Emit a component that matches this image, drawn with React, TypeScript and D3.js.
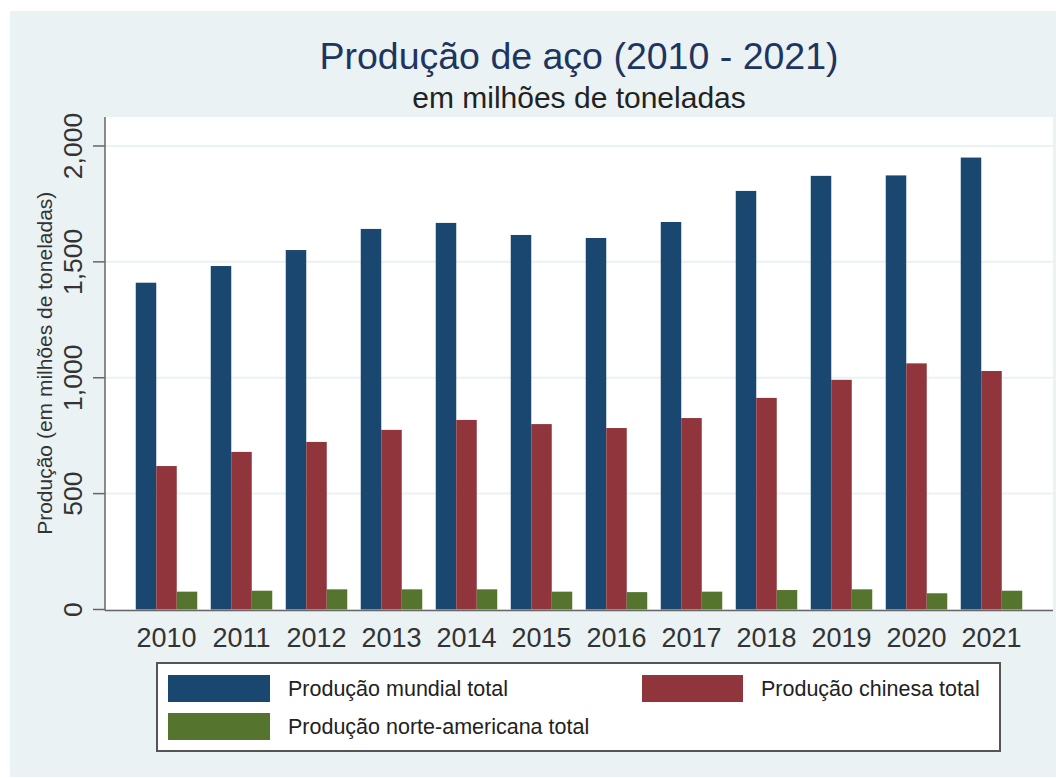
import React from "react";
import * as d3 from "d3";

const years = ["2010","2011","2012","2013","2014","2015","2016","2017","2018","2019","2020","2021"];
const mundial = [1410, 1482, 1551, 1642, 1668, 1616, 1603, 1672, 1806, 1871, 1873, 1950];
const chinesa = [619, 680, 723, 775, 818, 800, 783, 826, 913, 991, 1062, 1029];
const norteAmericana = [77, 81, 87, 87, 87, 77, 75, 77, 84, 87, 70, 81];
const yTicks = [0, 500, 1000, 1500, 2000];
const seriesNames = ["Produção mundial total", "Produção chinesa total", "Produção norte-americana total"];
const colors = ["#1a476f", "#90353b", "#55752f"];

const W = 1056, H = 778;
const plot = { left: 105, right: 1053, top: 117, bottom: 609.5 };
const FONT = "'Liberation Sans', Arial, Helvetica, sans-serif";

export default function App() {
  const x = d3.scaleBand<string>().domain(years).range([129, 1029]).paddingInner(0.18).paddingOuter(0.09);
  const sub = d3.scaleBand<number>().domain([0, 1, 2]).range([0, x.bandwidth()]);
  const y = d3.scaleLinear().domain([0, 2125]).range([plot.bottom, plot.top]);
  const fmt = d3.format(",");
  const series = [mundial, chinesa, norteAmericana];
  const cx = (plot.left + plot.right) / 2;

  return (
    <svg width={W} height={H} style={{ position: "absolute", left: 0, top: 0 }} fontFamily={FONT}>
      <rect x={10} y={11} width={W - 10} height={766} fill="#eaf2f3" />
      <rect x={plot.left} y={plot.top} width={plot.right - plot.left} height={plot.bottom - plot.top} fill="#ffffff" />
      {yTicks.slice(1).map(t => (
        <line key={"g" + t} x1={plot.left} x2={plot.right} y1={y(t)} y2={y(t)} stroke="#eaf2f3" strokeWidth={2} />
      ))}
      {series.map((vals, si) =>
        years.map((yr, i) => (
          <rect key={si + "-" + yr} x={(x(yr) as number) + (sub(si) as number)} y={y(vals[i])}
            width={sub.bandwidth()} height={y(0) - y(vals[i])} fill={colors[si]} />
        ))
      )}
      <line x1={plot.left} x2={plot.left} y1={plot.top} y2={plot.bottom + 1} stroke="#666" strokeWidth={1.5} />
      <line x1={plot.left} x2={plot.right} y1={plot.bottom + 1} y2={plot.bottom + 1} stroke="#666" strokeWidth={1.5} />
      {yTicks.map(t => (
        <g key={"t" + t}>
          <line x1={93} x2={plot.left} y1={y(t)} y2={y(t)} stroke="#666" strokeWidth={1.5} />
          <text transform={`translate(82,${y(t)}) rotate(-90)`} textAnchor="middle" fontSize={26.5} fill="#333">{fmt(t)}</text>
        </g>
      ))}
      {years.map(yr => (
        <text key={"x" + yr} x={(x(yr) as number) + x.bandwidth() / 2} y={647} textAnchor="middle" fontSize={27} fill="#333">{yr}</text>
      ))}
      <text transform={`translate(52,${(plot.top + plot.bottom) / 2}) rotate(-90)`} textAnchor="middle" fontSize={21} fill="#333">
        Produção (em milhões de toneladas)
      </text>
      <text x={cx} y={69} textAnchor="middle" fontSize={37.5} fill="#1e3461">Produção de aço (2010 - 2021)</text>
      <text x={cx} y={108} textAnchor="middle" fontSize={30} fill="#222">em milhões de toneladas</text>
      <g>
        <rect x={157} y={663} width={843} height={88} fill="#ffffff" stroke="#555" strokeWidth={2} />
        <rect x={168} y={675} width={102} height={27} fill={colors[0]} />
        <text x={288} y={696} fontSize={21.5} fill="#222">{seriesNames[0]}</text>
        <rect x={642} y={675} width={101} height={27} fill={colors[1]} />
        <text x={761} y={696} fontSize={21.5} fill="#222">{seriesNames[1]}</text>
        <rect x={168} y={713} width={102} height={27} fill={colors[2]} />
        <text x={288} y={734} fontSize={21.5} fill="#222">{seriesNames[2]}</text>
      </g>
    </svg>
  );
}
